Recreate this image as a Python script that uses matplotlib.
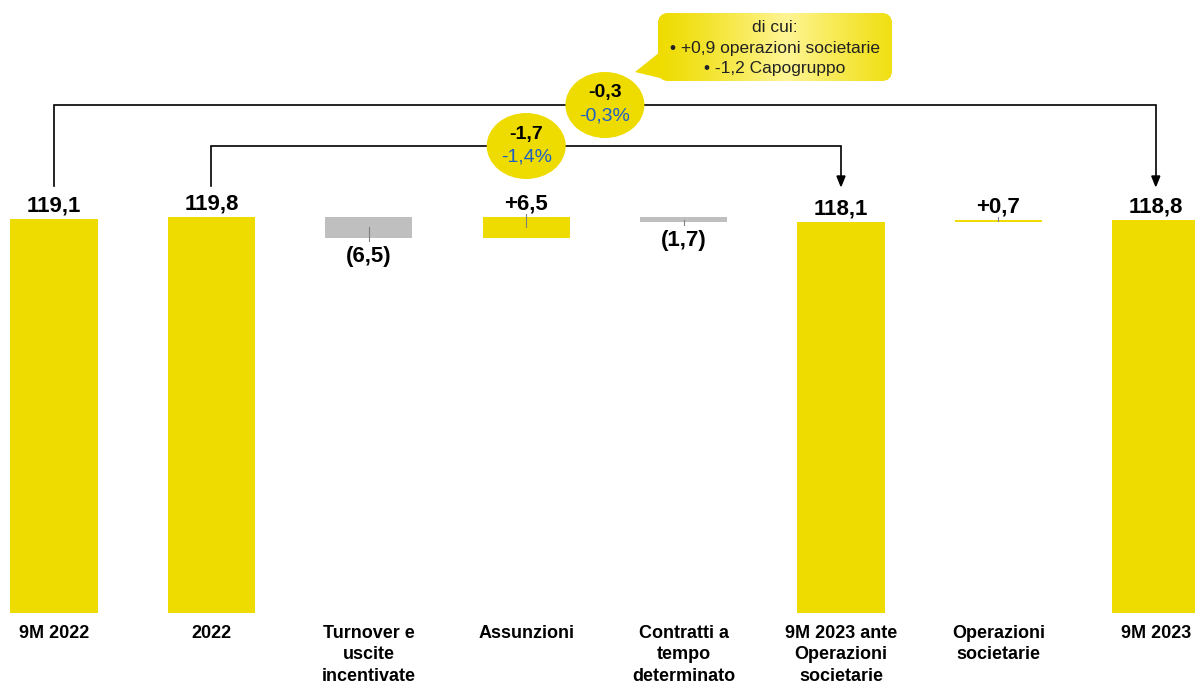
import matplotlib
matplotlib.use("Agg")
import matplotlib.pyplot as plt
from matplotlib.patches import Ellipse, FancyBboxPatch, Polygon
import numpy as np

# ---------------- data ----------------
categories = ["9M 2022", "2022", "Turnover e\nuscite\nincentivate", "Assunzioni",
              "Contratti a\ntempo\ndeterminato", "9M 2023 ante\nOperazioni\nsocietarie",
              "Operazioni\nsocietarie", "9M 2023"]
values = [119.1, 119.8, -6.5, 6.5, -1.7, 118.1, 0.7, 118.8]
kinds = ["total", "total", "delta", "delta", "delta", "total", "delta", "total"]
value_labels = ["119,1", "119,8", "(6,5)", "+6,5", "(1,7)", "118,1", "+0,7", "118,8"]

outer_change = ["-0,3", "-0,3%"]
inner_change = ["-1,7", "-1,4%"]
callout_lines = ["di cui:", "\u2022 +0,9 operazioni societarie", "\u2022 -1,2 Capogruppo"]

# ---------------- style ----------------
YELLOW = "#EEDC00"
GREY = "#BFBFBF"
BLUE = "#1F5FC4"
FONT = "Liberation Sans"

W, H = 1195, 686
fig = plt.figure(figsize=(W / 100, H / 100), dpi=100)
ax = fig.add_axes([0, 0, 1, 1])
ax.axis("off")

XPX = 157.4   # px per category slot
YPX = 3.308   # px per unit
x0_px, y0_px = 54, 613
ax.set_xlim(-x0_px / XPX, (W - x0_px) / XPX)
ax.set_ylim(-(H - y0_px) / YPX, y0_px / YPX)

def dy(px):
    return px / YPX

def dx(px):
    return px / XPX

bar_w = 0.555
x = np.arange(len(categories))

# compute waterfall
bottoms, heights = [], []
running = 0.0
for v, k in zip(values, kinds):
    if k == "total":
        bottoms.append(0.0)
        heights.append(v)
        running = v
    else:
        if v >= 0:
            bottoms.append(running)
        else:
            bottoms.append(running + v)
        heights.append(abs(v))
        running += v

colors = []
for v, k in zip(values, kinds):
    if k == "delta" and v < 0:
        colors.append(GREY)
    else:
        colors.append(YELLOW)

ax.bar(x, heights, bottom=bottoms, width=bar_w, color=colors, zorder=2, linewidth=0)

# value labels
for i, (v, k) in enumerate(zip(values, kinds)):
    top = bottoms[i] + heights[i]
    bot = bottoms[i]
    mid = (top + bot) / 2
    if k == "delta" and v < 0:
        ax.annotate(value_labels[i], (x[i], bot), xytext=(0, -24 * 0.72),
                    textcoords="offset points", ha="center", va="baseline",
                    fontsize=16, fontweight="bold", family=FONT, color="black", zorder=5)
        ax.plot([x[i], x[i]], [mid, bot - dy(3)], color="#808080", lw=0.8, zorder=3)
    else:
        ax.annotate(value_labels[i], (x[i], top), xytext=(0, 7.5 * 0.72),
                    textcoords="offset points", ha="center", va="baseline",
                    fontsize=16, fontweight="bold", family=FONT, color="black", zorder=5)
        if k == "delta":
            ax.plot([x[i], x[i]], [mid, top + dy(3)], color="#808080", lw=0.8, zorder=3)

# category labels
for i, c in enumerate(categories):
    ax.annotate(c, (x[i], 0), xytext=(0, -11.5 * 0.72), textcoords="offset points",
                ha="center", va="top", fontsize=13, fontweight="bold", family=FONT,
                linespacing=1.36, color="black")

# connectors
end_y = dy(y0_px - 186)
outer_y = dy(y0_px - 105)
inner_y = dy(y0_px - 146)
LW = 1.2

def bracket(i0, i1, yline):
    ax.plot([x[i0], x[i0], x[i1], x[i1]], [end_y, yline, yline, end_y + dy(9)],
            color="black", lw=LW, zorder=3, solid_joinstyle="miter")
    tri = Polygon([[x[i1] - dx(4), end_y + dy(10)], [x[i1] + dx(4), end_y + dy(10)],
                   [x[i1], end_y]], closed=True, color="black", zorder=3)
    ax.add_patch(tri)

bracket(0, 7, outer_y)
bracket(1, 5, inner_y)

# ellipses
def bubble(i0, i1, yline, texts):
    cx = (x[i0] + x[i1]) / 2
    e = Ellipse((cx, yline), dx(79), dy(66), facecolor=YELLOW, edgecolor="none", zorder=4)
    ax.add_patch(e)
    ax.text(cx, yline + dy(12), texts[0], ha="center", va="center", fontsize=14,
            fontweight="bold", family=FONT, color="black", zorder=5)
    ax.text(cx, yline - dy(11), texts[1], ha="center", va="center", fontsize=14,
            family=FONT, color=BLUE, zorder=5)

bubble(0, 7, outer_y, outer_change)
bubble(1, 5, inner_y, inner_change)

# callout box with gradient
bx0, bx1 = dx(658 - x0_px), dx(892 - x0_px)
by1, by0 = dy(y0_px - 13), dy(y0_px - 81)
tail = Polygon([[dx(660 - x0_px), dy(y0_px - 52)], [dx(635 - x0_px), dy(y0_px - 72)],
                [dx(664 - x0_px), dy(y0_px - 79)]], closed=True, facecolor=YELLOW,
               edgecolor="none", zorder=4)
ax.add_patch(tail)
box = FancyBboxPatch((bx0, by0), bx1 - bx0, by1 - by0,
                     boxstyle="round,pad=0,rounding_size=0.07",
                     mutation_aspect=(dy(1) / dx(1)),
                     facecolor=YELLOW, edgecolor="none", zorder=4)
ax.add_patch(box)
t = np.linspace(0, 1, 256)
c_edge = np.array([0xEE, 0xDC, 0x00]) / 255
c_mid = np.array([0xFF, 0xF5, 0x95]) / 255
w = np.clip(1 - np.abs(t - 0.55) / 0.55, 0, 1) ** 1.2
grad = c_edge[None, :] * (1 - w[:, None]) + c_mid[None, :] * w[:, None]
img = np.tile(grad[None, :, :], (16, 1, 1))
im = ax.imshow(img, extent=[bx0, bx1, by0, by1], aspect="auto", zorder=4.5,
               interpolation="bilinear")
im.set_clip_path(box)
ax.text((bx0 + bx1) / 2, (by0 + by1) / 2 - dy(1), "\n".join(callout_lines),
        ha="center", va="center", fontsize=12.5, family=FONT, color="#222222",
        linespacing=1.42, zorder=6)

ax.set_xlim(-x0_px / XPX, (W - x0_px) / XPX)
ax.set_ylim(-(H - y0_px) / YPX, y0_px / YPX)

fig.savefig("out.png", dpi=100, facecolor="white")
